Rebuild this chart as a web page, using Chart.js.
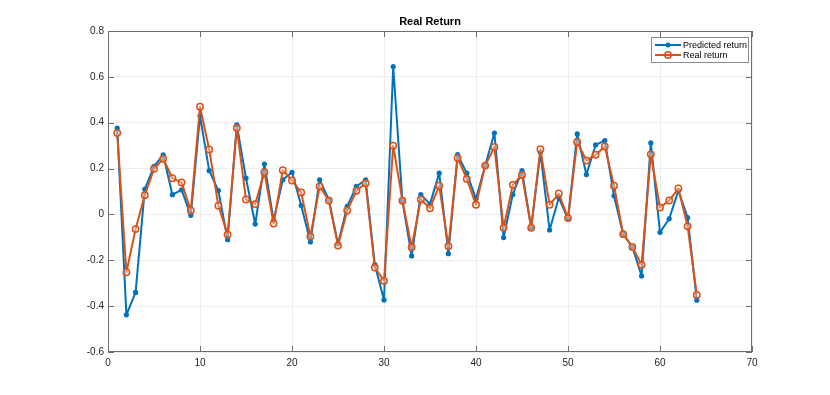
<!DOCTYPE html>
<html>
<head>
<meta charset="utf-8">
<script src="https://cdn.jsdelivr.net/npm/chart.js@4"></script>
<style>
  html, body { margin: 0; padding: 0; background: #fff; }
  #wrap { width: 830px; height: 395px; position: relative; }
</style>
</head>
<body>
<div id="wrap"><canvas id="returnChart" width="830" height="395"></canvas></div>
<script>
// Data
const steps = [1, 2, 3, 4, 5, 6, 7, 8, 9, 10, 11, 12, 13, 14, 15, 16,
  17, 18, 19, 20, 21, 22, 23, 24, 25, 26, 27, 28, 29, 30, 31, 32,
  33, 34, 35, 36, 37, 38, 39, 40, 41, 42, 43, 44, 45, 46, 47, 48,
  49, 50, 51, 52, 53, 54, 55, 56, 57, 58, 59, 60, 61, 62, 63, 64];

const predictedReturn = [0.377, -0.438, -0.34, 0.11, 0.21, 0.26, 0.086, 0.107, -0.004, 0.43, 0.191, 0.104, -0.11, 0.391, 0.158, -0.042,
  0.22, -0.026, 0.151, 0.184, 0.039, -0.12, 0.151, 0.065, -0.128, 0.035, 0.122, 0.151, -0.219, -0.373, 0.645, 0.059,
  -0.181, 0.087, 0.045, 0.18, -0.171, 0.261, 0.18, 0.068, 0.213, 0.355, -0.101, 0.087, 0.191, -0.058, 0.271, -0.068,
  0.073, -0.019, 0.351, 0.174, 0.303, 0.322, 0.081, -0.086, -0.142, -0.268, 0.312, -0.078, -0.019, 0.104, -0.014, -0.374];

const realReturn = [0.355, -0.252, -0.064, 0.084, 0.199, 0.243, 0.158, 0.139, 0.017, 0.47, 0.283, 0.038, -0.088, 0.377, 0.065, 0.045,
  0.184, -0.04, 0.193, 0.148, 0.096, -0.096, 0.122, 0.061, -0.136, 0.017, 0.103, 0.136, -0.232, -0.29, 0.3, 0.06,
  -0.143, 0.065, 0.027, 0.125, -0.139, 0.246, 0.155, 0.042, 0.213, 0.294, -0.058, 0.129, 0.172, -0.058, 0.284, 0.042,
  0.091, -0.016, 0.316, 0.235, 0.26, 0.296, 0.125, -0.086, -0.142, -0.22, 0.262, 0.03, 0.061, 0.113, -0.052, -0.351];

const xTicks = [0, 10, 20, 30, 40, 50, 60, 70];
const yTicks = [-0.6, -0.4, -0.2, 0, 0.2, 0.4, 0.6, 0.8];

const chartTitle = 'Real Return';
const seriesNames = ['Predicted return', 'Real return'];

// MATLAB-ish colours
const BLUE = '#0072BD';
const ORANGE = '#D95319';
const AXIS = '#6e6e6e';
const GRID = '#ededed';
const FONT = '"Liberation Sans", Arial, Helvetica, sans-serif';

// box, inward ticks, title and legend (MATLAB style)
const matlabFrame = {
    id: 'matlabFrame',
    afterDraw(chart) {
        const { ctx, chartArea: a, scales } = chart;
        ctx.save();
        ctx.strokeStyle = AXIS;
        ctx.lineWidth = 1;
        ctx.strokeRect(a.left + 0.5, a.top + 0.5, a.right - a.left - 1, a.bottom - a.top - 1);

        // inward tick marks
        ctx.beginPath();
        xTicks.forEach(v => {
            const px = Math.round(scales.x.getPixelForValue(v)) + 0.5;
            ctx.moveTo(px, a.bottom); ctx.lineTo(px, a.bottom - 6);
            ctx.moveTo(px, a.top); ctx.lineTo(px, a.top + 6);
        });
        yTicks.forEach(v => {
            const py = Math.round(scales.y.getPixelForValue(v)) + 0.5;
            ctx.moveTo(a.left, py); ctx.lineTo(a.left + 6, py);
            ctx.moveTo(a.right, py); ctx.lineTo(a.right - 6, py);
        });
        ctx.stroke();

        // title
        ctx.fillStyle = '#000';
        ctx.font = 'bold 11px ' + FONT;
        ctx.textAlign = 'center';
        ctx.textBaseline = 'middle';
        ctx.fillText(chartTitle, (a.left + a.right) / 2, 22);

        // legend
        const lx = 651, ly = 37, lw = 97, lh = 25;
        ctx.fillStyle = '#fff';
        ctx.fillRect(lx, ly, lw, lh);
        ctx.strokeStyle = '#8c8c8c';
        ctx.lineWidth = 1;
        ctx.strokeRect(lx + 0.5, ly + 0.5, lw, lh);
        ctx.font = '9px ' + FONT;
        ctx.textAlign = 'left';
        const ds = chart.data.datasets;
        [ly + 8, ly + 18].forEach((y, i) => {
            ctx.strokeStyle = ds[i].borderColor;
            ctx.lineWidth = 2;
            ctx.beginPath();
            ctx.moveTo(lx + 4, y); ctx.lineTo(lx + 30, y);
            ctx.stroke();
            ctx.beginPath();
            if (i === 0) {
                ctx.fillStyle = BLUE;
                ctx.arc(lx + 17, y, 2.5, 0, Math.PI * 2);
                ctx.fill();
            } else {
                ctx.lineWidth = 1.5;
                ctx.arc(lx + 17, y, 3.2, 0, Math.PI * 2);
                ctx.stroke();
            }
            ctx.fillStyle = '#000';
            ctx.fillText(seriesNames[i], lx + 32, y + 0.5);
        });
        ctx.restore();
    }
};

new Chart(document.getElementById('returnChart'), {
    type: 'line',
    data: {
        datasets: [{
            label: seriesNames[0],
            data: steps.map((s, i) => ({ x: s, y: predictedReturn[i] })),
            order: 1,
            borderColor: BLUE,
            backgroundColor: BLUE,
            borderWidth: 2,
            borderJoinStyle: 'round',
            pointRadius: 2.6,
            pointBorderWidth: 0,
            tension: 0
        }, {
            label: seriesNames[1],
            data: steps.map((s, i) => ({ x: s, y: realReturn[i] })),
            order: 0,
            borderColor: ORANGE,
            backgroundColor: 'rgba(255,255,255,0.35)',
            borderWidth: 2,
            borderJoinStyle: 'round',
            pointRadius: 3.2,
            pointBorderWidth: 1.5,
            tension: 0
        }]
    },
    options: {
        responsive: false,
        animation: false,
        devicePixelRatio: 1,
        layout: { padding: { top: 31, right: 78, bottom: 0, left: 0 } },
        plugins: {
            legend: { display: false },
            title: { display: false },
            tooltip: { enabled: false }
        },
        scales: {
            x: {
                type: 'linear',
                min: 0,
                max: 70,
                afterFit: s => { s.height = 43; },
                afterBuildTicks: s => { s.ticks = xTicks.map(v => ({ value: v })); },
                grid: { color: GRID, drawTicks: false },
                border: { display: false },
                ticks: {
                    padding: 5,
                    color: '#262626',
                    font: { family: FONT, size: 10 },
                    maxRotation: 0
                }
            },
            y: {
                min: -0.6,
                max: 0.8,
                afterFit: s => { s.width = 108; },
                afterBuildTicks: s => { s.ticks = yTicks.map(v => ({ value: v })); },
                grid: { color: GRID, drawTicks: false },
                border: { display: false },
                ticks: {
                    padding: 4,
                    color: '#262626',
                    font: { family: FONT, size: 10 },
                    callback: v => String(Number(v.toFixed(1)))
                }
            }
        }
    },
    plugins: [matlabFrame]
});
</script>
</body>
</html>
